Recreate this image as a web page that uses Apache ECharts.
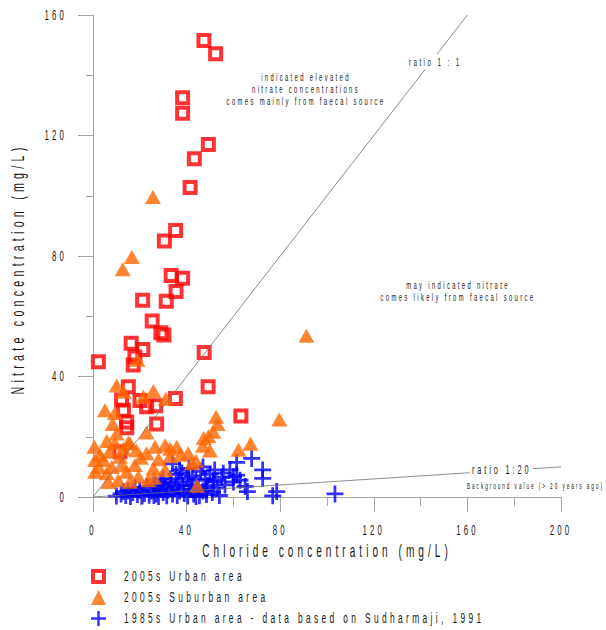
<!DOCTYPE html>
<html>
<head>
<meta charset="utf-8">
<script src="https://cdn.jsdelivr.net/npm/echarts@6/dist/echarts.min.js"></script>
<style>
  html, body { margin: 0; padding: 0; background: #fff; }
  #chart { width: 606px; height: 630px; }
  #chart text { letter-spacing: 0.4em; }
</style>
</head>
<body>
<div id="chart"></div>
<script>
// Chloride (mg/L), nitrate (mg/L) pairs for each survey group
const urban2005 = [
  [47.4,151.5],[52.4,147.1],[38.3,132.5],[38.3,127.4],[49.3,117],[43.3,112.3],
  [41.5,102.7],[35.3,88.5],[30.5,85],[33.4,73.5],[38.3,72.6],[35.5,68.2],
  [21.2,65.3],[31.3,65],[25.3,58.4],[29,54.5],[30.3,53.8],[2.3,44.9],
  [16.3,51],[21.3,49],[17.9,46.5],[17.2,43.8],[47.5,48],[49.2,36.6],
  [35.2,32.7],[15.1,36.6],[12.2,32.2],[20.1,32],[26.8,30.3],[13,28.8],
  [22.9,30],[27.2,24.2],[14.4,24.9],[14.4,23],[63.2,26.9],[11.5,15]
];
const suburban2005 = [
  [25.6,99.6],[16.6,79.7],[12.7,75.6],[91.2,53.5],[19,45.6],[10.1,37],
  [13.1,34.9],[25.8,35.2],[21.5,33.4],[31.1,32.6],[5.1,28.8],[9.4,27.9],
  [8.4,24.2],[10.1,21.1],[5.9,18.6],[0.6,16.7],[22.9,21.4],[15.1,18.1],
  [52.6,26.6],[53.2,24.2],[51.4,21.7],[49.3,20.2],[47.3,19.6],[50,15.4],
  [79.6,25.7],[62.2,15.7],[67.3,17.7],[44.5,3.7],
  [9.4,17.8],[15.8,17.8],[26.5,16.7],[30.8,17.2],[35.8,16.7],[22.9,14.5],
  [40.7,14.5],[42.2,11.2],[0.9,12.3],[4.4,12.3],[11.5,13.4],[17.9,10.6],
  [25.8,9.5],[30.8,9],[0.9,8.4],[5.9,7.9],[10.8,5.6],[15.8,5.1],
  [19.4,6.7],[23.6,5.6],[14.4,8.4],[8,10],[3,14],[7,15],[2.5,10],[6.5,5],
  [12.5,10.5],[20.5,13],[28,12.5],[33,13.5],[37.5,14],[26,6.5],[33,16],
  [18.5,15.5],[13,16],[47,17],[44,12]
];
const urban1985 = [
  [10,0.3],[12,1],[13,1.8],[14,0.5],[15,2],[16,0.2],[17,1.5],[18,3],[19,0.8],
  [20,2.2],[21,0.3],[22,1.2],[23,3.5],[24,0.6],[25,2],[26,4],[26,0.5],[27,1],
  [28,0.2],[28.5,2.8],[29,5],[30,1.5],[30,6],[31,3.5],[31.5,0.4],[32,2.2],
  [33,6],[33.5,4.2],[34,1],[34,11],[35,3],[35.5,7.5],[36,0.5],[36.5,5],
  [37,2],[37,9],[38,8],[38.5,3.8],[39,1.2],[40,6.2],[40.5,0.3],[41,4],
  [41,9.5],[42,2.5],[42.5,7],[43,1],[44,5.5],[44,0.2],[45,3],[45.5,0.4],
  [46,8.5],[47,2],[47,10],[48,6],[48.5,0.8],[48.6,2.3],[49,3.8],[50,7.5],
  [51,1.5],[51.4,5.6],[51.5,5],[52,9],[53,3],[54,0.5],[55,6.5],[55.7,7.9],
  [56.4,4],[58.5,9],[60,6.7],[60,5],[61.4,11.5],[61.4,7.3],[62.8,5.6],
  [65,3.5],[66,1.8],[67.8,12.8],[72.5,9],[72.5,6.2],[78.5,1.8],[76.8,0.4],
  [103.4,1]
];

// Reference ratio lines (nitrate : chloride), split where their captions sit
const ratio1to1 = [[[0,0],[142,142]], [[147,147],[160,160]]];
const ratio1to20 = [[[0,0],[161,8.05]], [[188,9.4],[200,10]]];

// Axis ranges and tick steps
const xRange = [0, 200];
const yRange = [0, 160];
const tickStep = 40;

const seriesNames = [
  '2005s Urban area',
  '2005s Suburban area',
  '1985s Urban area - data based on Sudharmaji, 1991'
];

const FONT = '"Liberation Sans", Arial, sans-serif';
const TXT = '#1a1a1a';
const AXIS = '#a6a6a6';
// hollow square (ring) and plus-sign markers
const ringPath = 'path://M0,0H15V15H0Z M4,4V11H11V4Z';
const crossPath = 'path://M6.7,0h2.6v6.7h6.7v2.6h-6.7v6.7h-2.6v-6.7h-6.7v-2.6h6.7z';

function refLine(seg) {
  return {
    type: 'line', data: seg, symbol: 'none', silent: true, z: 10,
    lineStyle: { color: '#6e6e6e', width: 0.8 }, animation: false
  };
}

function axisCommon(range) {
  return {
    type: 'value', min: range[0], max: range[1], interval: tickStep,
    axisLine: { show: true, lineStyle: { color: AXIS, width: 1 } },
    axisTick: { show: true, length: 15, lineStyle: { color: AXIS } },
    minorTick: { show: true, splitNumber: 2, length: 9, lineStyle: { color: AXIS } },
    splitLine: { show: false },
    minorSplitLine: { show: false },
    nameTextStyle: { fontFamily: FONT, fontSize: 18, color: TXT }
  };
}

const chart = echarts.init(document.getElementById('chart'), null, { renderer: 'svg' });

chart.setOption({
  animation: false,
  grid: { left: 93, right: 45, top: 15, bottom: 133 },
  xAxis: Object.assign(axisCommon(xRange), {
    name: 'Chloride concentration (mg/L)',
    nameLocation: 'middle', nameGap: 44,
    axisLabel: { margin: 26, fontFamily: FONT, fontSize: 14, color: TXT }
  }),
  yAxis: Object.assign(axisCommon(yRange), {
    name: 'Nitrate concentration (mg/L)',
    nameLocation: 'middle', nameGap: 66,
    nameTextStyle: { fontFamily: FONT, fontSize: 19, color: TXT, padding: [0, 26, 0, 0] },
    minorTick: { show: true, splitNumber: 2, length: 7, lineStyle: { color: AXIS } },
    axisLabel: { margin: 26, fontFamily: FONT, fontSize: 14, color: TXT }
  }),
  legend: {
    orient: 'vertical', left: 91, top: 569, padding: 0,
    itemWidth: 15, itemHeight: 15, itemGap: 6,
    data: seriesNames,
    textStyle: { fontFamily: FONT, fontSize: 15, lineHeight: 15, color: TXT, padding: [0, 0, 0, 13] }
  },
  series: [
    {
      name: seriesNames[2], type: 'scatter', data: urban1985, z: 2,
      symbol: crossPath, symbolSize: 17,
      itemStyle: { color: '#0000ff' }
    },
    {
      name: seriesNames[0], type: 'scatter', data: urban2005, z: 3,
      symbol: ringPath, symbolSize: 15,
      itemStyle: { color: '#ff0000' }
    },
    {
      name: seriesNames[1], type: 'scatter', data: suburban2005, z: 4,
      symbol: 'triangle', symbolSize: [16, 14],
      itemStyle: { color: '#ff6600' }
    },
    refLine(ratio1to1[0]), refLine(ratio1to1[1]),
    refLine(ratio1to20[0]), refLine(ratio1to20[1])
  ],
  graphic: [
    { type: 'text', silent: true,
      style: { text: 'indicated elevated\nnitrate concentrations\ncomes mainly from faecal source',
        x: 306, y: 71, textAlign: 'center', lineHeight: 12,
        font: '10.5px ' + FONT, fill: TXT } },
    { type: 'text', silent: true,
      style: { text: 'ratio 1 : 1', x: 409, y: 62, textVerticalAlign: 'middle',
        font: '11px ' + FONT, fill: TXT } },
    { type: 'text', silent: true,
      style: { text: 'may indicated nitrate\ncomes likely from faecal source',
        x: 458, y: 279, textAlign: 'center', lineHeight: 12,
        font: '10.5px ' + FONT, fill: TXT } },
    { type: 'text', silent: true,
      style: { text: 'ratio 1:20', x: 472, y: 469, textVerticalAlign: 'middle',
        font: '13px ' + FONT, fill: TXT } },
    { type: 'text', silent: true,
      style: { text: 'Background value (> 20 years ago)', x: 467, y: 486,
        textVerticalAlign: 'middle', font: '8.5px ' + FONT, fill: TXT } }
  ]
});

// Narrow, widely tracked lettering: squeeze each label horizontally about its anchor
const CONDENSE = 0.56;
function condenseText() {
  document.querySelectorAll('#chart svg text').forEach(function (t) {
    const cur = t.getAttribute('transform') || '';
    if (t.dataset.applied === cur) return;
    const x = parseFloat(t.getAttribute('x') || '0');
    const next = (cur ? cur + ' ' : '') +
      'translate(' + x + ',0) scale(' + CONDENSE + ',1) translate(' + (-x) + ',0)';
    t.setAttribute('transform', next);
    t.dataset.applied = next;
  });
}
chart.on('finished', condenseText);
condenseText();
</script>
</body>
</html>
